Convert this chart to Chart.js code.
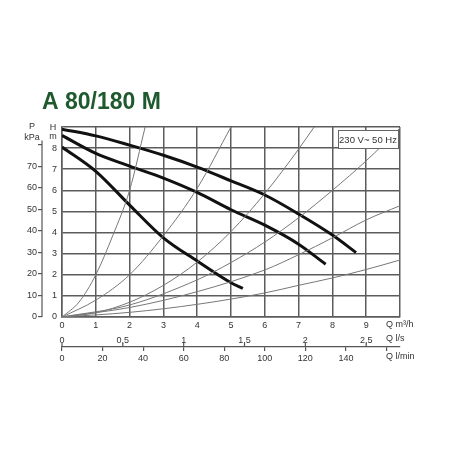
<!DOCTYPE html>
<html>
<head>
<meta charset="utf-8">
<script src="https://cdn.jsdelivr.net/npm/chart.js@4.4.0/dist/chart.umd.min.js"></script>
<style>
html, body { margin: 0; background: #fff; }
#wrap { width: 450px; height: 450px; }
</style>
</head>
<body>
<div id="wrap"><canvas id="chart"></canvas></div>
<script>
// pump curves, Q in m3/h, H in m
const pumpQ1 = [0, 1, 2, 3, 4, 5, 6, 7, 8, 8.7];
const pumpH1 = [8.9, 8.58, 8.14, 7.66, 7.1, 6.45, 5.78, 4.88, 3.88, 3.05];
const pumpQ2 = [0, 1, 2, 3, 4, 5, 6, 7, 7.8];
const pumpH2 = [8.6, 7.75, 7.15, 6.58, 5.9, 5.08, 4.35, 3.45, 2.5];
const pumpQ3 = [0, 1, 2, 3, 4, 5, 5.35];
const pumpH3 = [8.05, 6.9, 5.3, 3.75, 2.65, 1.62, 1.35];

// system curves (thin lines from the origin)
const sysQ1 = [0, 0.5, 1, 1.5, 2, 2.46];
const sysH1 = [0, 0.7, 2.0, 3.85, 6.0, 9];
const sysQ2 = [0, 1, 2, 3, 4, 5];
const sysH2 = [0, 0.8, 2.0, 3.85, 6.1, 9];
const sysQ3 = [0, 1, 2, 3, 4, 5, 6, 7, 7.46];
const sysH3 = [0, 0.2, 0.7, 1.5, 2.6, 4.05, 5.85, 7.95, 9];
const sysQ4 = [0, 2, 4, 5, 6, 7, 8, 9, 10];
const sysH4 = [0, 0.57, 1.76, 2.58, 3.55, 4.7, 6.0, 7.4, 8.95];
const sysQ5 = [0, 2, 4, 6, 7, 8, 9, 10];
const sysH5 = [0, 0.45, 1.2, 2.23, 2.95, 3.75, 4.6, 5.27];
const sysQ6 = [0, 2, 4, 6, 7, 8, 9, 10];
const sysH6 = [0, 0.22, 0.6, 1.14, 1.5, 1.85, 2.25, 2.7];

// axis ticks
const lsTicks = [0, 0.5, 1, 1.5, 2, 2.5];
const lminTicks = [0, 20, 40, 60, 80, 100, 120, 140, 160];
const kpaTicks = [0, 10, 20, 30, 40, 50, 60, 70, 80];

const titleText = 'A 80/180 M';
const ratingText = '230 V~ 50 Hz';

const small = { family: '"Liberation Sans", Arial, sans-serif', size: 9 };
const gridColor = '#5c5c5c';

function pts(q, h) {
    return q.map((v, i) => ({ x: v, y: h[i] }));
}

function pumpSet(q, h) {
    return { data: pts(q, h), borderColor: '#111', borderWidth: 3, pointRadius: 0,
             cubicInterpolationMode: 'monotone', fill: false };
}
function sysSet(q, h) {
    return { data: pts(q, h), borderColor: '#777', borderWidth: 1, pointRadius: 0,
             cubicInterpolationMode: 'monotone', fill: false };
}

// texts, secondary axis line and rating box
const extras = {
    id: 'extras',
    afterDraw(chart) {
        const ctx = chart.ctx;
        const { x, x2, x3, y, y2 } = chart.scales;
        ctx.save();

        ctx.fillStyle = '#1e5a2e';
        ctx.font = 'bold 23px "Liberation Sans", Arial, sans-serif';
        ctx.textAlign = 'left';
        ctx.textBaseline = 'alphabetic';
        ctx.fillText(titleText, 42, 109);

        // kPa axis line
        ctx.strokeStyle = '#555';
        ctx.lineWidth = 1.2;
        ctx.beginPath();
        ctx.moveTo(y2.right, y2.getPixelForValue(0));
        ctx.lineTo(y2.right, y2.getPixelForValue(82));
        ctx.stroke();

        // l/s tick marks pointing up from the l/min line
        ctx.beginPath();
        lsTicks.forEach(v => {
            const px = x2.getPixelForValue(v);
            ctx.moveTo(px, x3.top);
            ctx.lineTo(px, x3.top - 4);
        });
        ctx.stroke();

        ctx.fillStyle = '#333';
        ctx.font = '9px "Liberation Sans", Arial, sans-serif';
        ctx.textAlign = 'center';
        ctx.textBaseline = 'middle';
        ctx.fillText('H', y.right - 9, y.getPixelForValue(9) + 1);
        ctx.fillText('m', y.right - 9, y.getPixelForValue(9) + 10);
        ctx.fillText('P', y2.right - 10, y.getPixelForValue(9));
        ctx.fillText('kPa', y2.right - 10, y.getPixelForValue(9) + 11);

        ctx.textAlign = 'left';
        const qx = x.getPixelForValue(10) - 14;
        ctx.fillText('Q m\u00b3/h', qx, x.top + 8);
        ctx.fillText('Q l/s', qx, x2.top + 8);
        ctx.fillText('Q l/min', qx, x3.top + 10);

        // rating box
        const bx = x.right - 62, by = y.top + 3, bw = 60, bh = 18;
        ctx.fillStyle = '#fff';
        ctx.fillRect(bx, by, bw, bh);
        ctx.strokeStyle = '#666';
        ctx.lineWidth = 1;
        ctx.strokeRect(bx + 0.5, by + 0.5, bw, bh);
        ctx.fillStyle = '#333';
        ctx.font = '9.5px "Liberation Sans", Arial, sans-serif';
        ctx.textAlign = 'center';
        ctx.fillText(ratingText, bx + bw / 2, by + bh / 2 + 1);

        ctx.restore();
    }
};

const chart = new Chart(document.getElementById('chart'), {
    type: 'line',
    data: {
        datasets: [
            sysSet(sysQ1, sysH1), sysSet(sysQ2, sysH2), sysSet(sysQ3, sysH3),
            sysSet(sysQ4, sysH4), sysSet(sysQ5, sysH5), sysSet(sysQ6, sysH6),
            pumpSet(pumpQ1, pumpH1), pumpSet(pumpQ2, pumpH2), pumpSet(pumpQ3, pumpH3)
        ]
    },
    options: {
        responsive: true,
        maintainAspectRatio: false,
        animation: false,
        layout: { padding: { top: 127, left: 0, right: 50, bottom: 83 } },
        plugins: { legend: { display: false }, tooltip: { enabled: false } },
        scales: {
            x: {
                type: 'linear', position: 'bottom', min: 0, max: 10,
                ticks: { stepSize: 1, padding: 3, color: '#333', font: small, maxRotation: 0,
                         callback: v => (v < 10 ? String(v) : '') },
                grid: { color: gridColor, lineWidth: 1.5, drawTicks: false },
                border: { color: gridColor, width: 1.5 },
                afterFit: s => { s.height = 14; }
            },
            x2: {
                type: 'linear', position: 'bottom', min: 0, max: 10 / 3.6,
                afterBuildTicks: s => { s.ticks = lsTicks.map(v => ({ value: v })); },
                ticks: { padding: 4, color: '#333', font: small, autoSkip: false, maxRotation: 0,
                         callback: v => String(v).replace('.', ',') },
                grid: { display: false, drawTicks: false },
                border: { display: false },
                afterFit: s => { s.height = 16; }
            },
            x3: {
                type: 'linear', position: 'bottom', min: 0, max: 1000 / 6,
                afterBuildTicks: s => { s.ticks = lminTicks.map(v => ({ value: v })); },
                ticks: { padding: 2, color: '#333', font: small, autoSkip: false, maxRotation: 0,
                         callback: v => (v < 160 ? String(v) : '') },
                grid: { drawOnChartArea: false, tickLength: 4, color: '#555', lineWidth: 1.2 },
                border: { color: '#555', width: 1.2 },
                afterFit: s => { s.height = 20; }
            },
            y: {
                type: 'linear', position: 'left', min: 0, max: 9,
                ticks: { stepSize: 1, padding: 5, color: '#333', font: small,
                         callback: v => (v < 9 ? String(v) : '') },
                grid: { color: gridColor, lineWidth: 1.5, drawTicks: false },
                border: { color: gridColor, width: 1.5 },
                afterFit: s => { s.width = 20; }
            },
            y2: {
                type: 'linear', position: 'left', min: 0, max: 9 * 9.81,
                afterBuildTicks: s => { s.ticks = kpaTicks.map(v => ({ value: v })); },
                ticks: { padding: 1, color: '#333', font: small,
                         callback: v => (v < 80 ? String(v) : '') },
                grid: { drawOnChartArea: false, tickLength: 4, color: '#555', lineWidth: 1.2 },
                border: { display: false },
                afterFit: s => { s.width = 42; }
            }
        }
    },
    plugins: [extras]
});
</script>
</body>
</html>
